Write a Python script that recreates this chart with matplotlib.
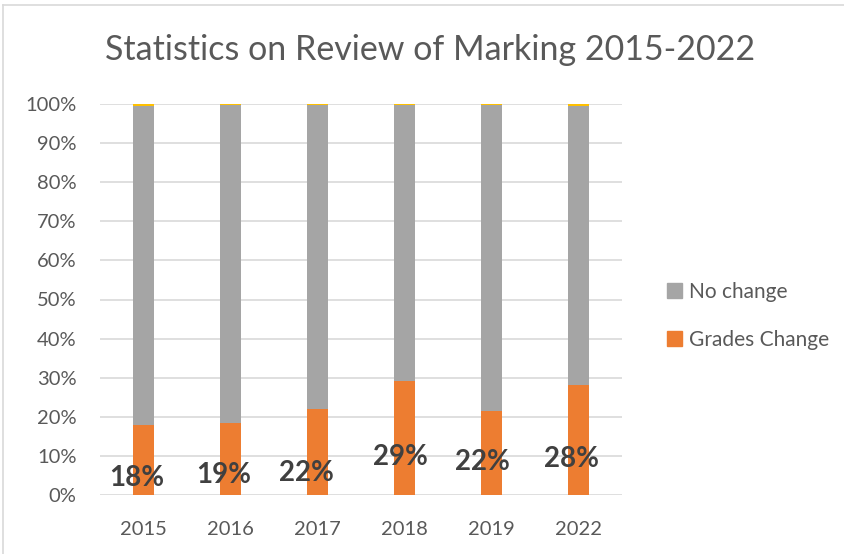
import matplotlib.pyplot as plt
from matplotlib.lines import Line2D
from matplotlib.patches import Patch

years = ["2015", "2016", "2017", "2018", "2019", "2022"]
grades_change = [17.9, 18.5, 22.0, 29.2, 21.6, 28.2]
other = [0.4, 0.3, 0.3, 0.3, 0.3, 0.5]
no_change = [100 - g - o for g, o in zip(grades_change, other)]
label_text = ["18%", "19%", "22%", "29%", "22%", "28%"]

# where the data labels sit (they were dragged by hand in the original)
label_y = [4.3, 5.1, 5.6, 9.7, 8.4, 9.2]
label_dx = [-0.08, -0.08, -0.13, -0.05, -0.10, -0.08]

orange = "#ED7D31"
gray = "#A5A5A5"
yellow = "#FFC000"
text_col = "#595959"

plt.rcParams["font.family"] = ["Lato", "DejaVu Sans"]

fig = plt.figure(figsize=(8.44, 5.54), dpi=100)
ax = fig.add_axes([100 / 844, 1 - 495 / 554, 522 / 844, 391 / 554])

x = list(range(len(years)))
w = 0.25
ax.bar(x, grades_change, w, color=orange, label="Grades Change", zorder=3)
ax.bar(x, no_change, w, bottom=grades_change, color=gray, label="No change", zorder=3)
bottoms = [g + n for g, n in zip(grades_change, no_change)]
ax.bar(x, other, w, bottom=bottoms, color=yellow, zorder=3)

for i, t in enumerate(label_text):
    ax.text(x[i] + label_dx[i], label_y[i], t, ha="center", va="center",
            fontsize=20, fontweight="bold", color="#404040", zorder=4)

ax.set_xlim(-0.5, len(years) - 0.5)
ax.set_ylim(0, 100)
ax.set_yticks(range(0, 101, 10))
ax.set_yticklabels([f"{v}%" for v in range(0, 101, 10)])
ax.set_xticks(x)
ax.set_xticklabels(years)
ax.tick_params(length=0, labelsize=14.5, colors=text_col)
ax.tick_params(axis="x", pad=19)
ax.tick_params(axis="y", pad=17)
for s in ax.spines.values():
    s.set_visible(False)
ax.yaxis.grid(True, color="#D9D9D9", linewidth=1.2, zorder=0)
ax.set_axisbelow(True)

handles = [Patch(color=gray, label="No change"), Patch(color=orange, label="Grades Change")]
fig.legend(handles=handles, loc="center left", bbox_to_anchor=(648 / 844, 1 - 316 / 554),
           frameon=False, fontsize=15, labelcolor=text_col, handlelength=0.75,
           handleheight=0.75, handletextpad=0.3, labelspacing=1.35)

fig.text(0.509, 1 - 50 / 554, "Statistics on Review of Marking 2015-2022",
         ha="center", va="center", fontsize=24.5, color=text_col)

# chart area border (top and left visible)
fig.add_artist(Line2D([3 / 844, 1], [1 - 5 / 554, 1 - 5 / 554], color="#D9D9D9", linewidth=1.2))
fig.add_artist(Line2D([3 / 844, 3 / 844], [0, 1 - 5 / 554], color="#D9D9D9", linewidth=1.2))

fig.savefig("out.png", dpi=100)
